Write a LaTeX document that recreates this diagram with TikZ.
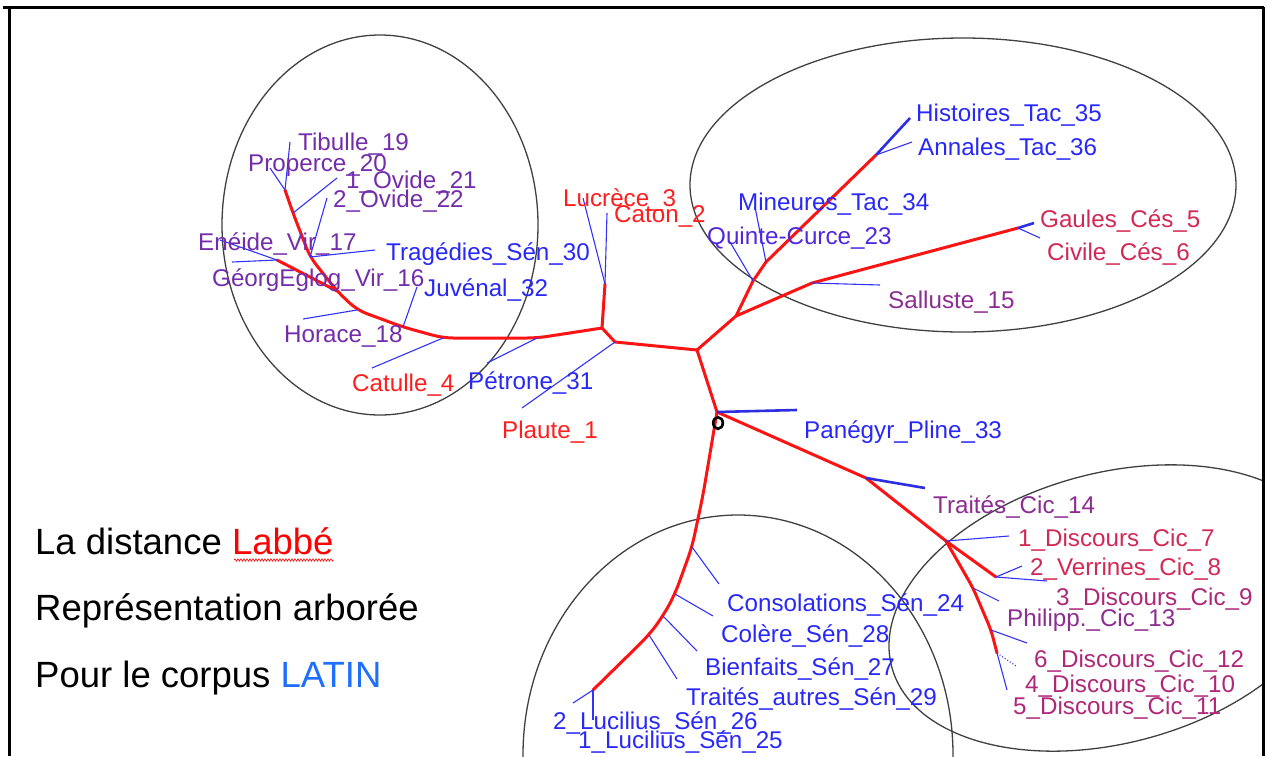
\documentclass[tikz,border=0pt]{standalone}
\usepackage{fontspec}
\setmainfont{Liberation Sans}
\usepackage{tikz}
\usetikzlibrary{calc, positioning}
\usetikzlibrary{decorations.pathmorphing}

\definecolor{treered}{RGB}{250,20,20}
\definecolor{leafblue}{RGB}{50,50,250}
\definecolor{labblue}{RGB}{40,40,250}
\definecolor{labindigo}{RGB}{80,40,220}
\definecolor{labpurple}{RGB}{115,45,170}
\definecolor{labred}{RGB}{255,30,30}
\definecolor{labcrimson}{RGB}{210,40,85}
\definecolor{labplum}{RGB}{140,45,145}
\definecolor{labmagenta}{RGB}{175,40,120}
\definecolor{latinblue}{RGB}{30,110,255}

\newcommand{\treefont}{\fontsize{24.2}{27}\selectfont}
\newcommand{\legendfont}{\fontsize{36.5}{41}\selectfont}

\begin{document}
\begin{tikzpicture}[x=1pt, y=-1pt,
    branch/.style={line width=3pt, treered, line join=round, line cap=round},
    leaf/.style={line width=1.1pt, leafblue},
    thickleaf/.style={line width=2.6pt, leafblue!90!black},
    group/.style={line width=1.3pt, black!75},
    lab/.style={anchor=base west, inner sep=0pt, font=\treefont},
    legend/.style={anchor=base west, inner sep=0pt, font=\legendfont}]

    \useasboundingbox (0,0) rectangle (1268,756);

    % frame
    \draw[line width=3pt] (3,7) -- (1264,7);
    \draw[line width=3pt] (9,7) -- (9,756);
    \draw[line width=3pt] (1263,7) -- (1263,756);

    % groups
    \coordinate (poetsc) at (380,225);
    \coordinate (tacc) at (963,185);
    \coordinate (senc) at (738,755);
    \coordinate (cicc) at (1112,608);
    \begin{scope}
        \clip (10,8) rectangle (1262,756);
        \draw[group] (poetsc) ellipse [x radius=158, y radius=190];
        \draw[group] (tacc) ellipse [x radius=273, y radius=147];
        \draw[group] (senc) ellipse [x radius=215, y radius=240];
        \draw[group, rotate around={15:(cicc)}] (cicc) ellipse [x radius=228, y radius=135];
    \end{scope}

    % internal nodes of the tree
    \coordinate (root) at (717,412);
    \coordinate (a) at (697,350);
    \coordinate (b) at (615,342);
    \coordinate (c) at (602,328);
    \coordinate (d) at (605,284);
    \coordinate (l1) at (537,338);
    \coordinate (l2) at (443,338);
    \coordinate (l3) at (403,327);
    \coordinate (l4) at (357,310);
    \coordinate (e) at (337,291);
    \coordinate (f) at (277,260);
    \coordinate (g) at (310,257);
    \coordinate (h) at (293,213);
    \coordinate (i) at (285,190);
    \coordinate (j) at (736,316);
    \coordinate (tq) at (753,281);
    \coordinate (tm) at (766,262);
    \coordinate (tk) at (876,155);
    \coordinate (cs) at (812,283);
    \coordinate (cg) at (1018,228);
    \coordinate (k) at (866,478);
    \coordinate (m) at (946,541);
    \coordinate (v) at (996,577);
    \coordinate (n1) at (973,588);
    \coordinate (n2) at (991,630);
    \coordinate (n3) at (997,653);
    \coordinate (s0) at (703,495);
    \coordinate (s1) at (692,547);
    \coordinate (s2) at (675,594);
    \coordinate (s3) at (663,616);
    \coordinate (s4) at (649,635);
    \coordinate (s5) at (593,690);

    % red branches
    \draw[branch] (root) -- (a) -- (b) -- (c) -- (d);
    \draw[branch, rounded corners=10pt] (c) -- (l1) -- (l2) -- (l3) -- (l4) -- (e) -- (g) -- (h) -- (i);
    \draw[branch] (e) -- (f);
    \draw[branch] (a) -- (j) -- (tq) -- (tm) -- (tk);
    \draw[branch] (j) -- (cs) -- (cg);
    \draw[branch] (root) -- (k) -- (m) -- (v);
    \draw[branch, rounded corners=8pt] (m) -- (n1) -- (n2) -- (n3);
    \draw[branch, rounded corners=12pt] (root) -- (s0) -- (s1) -- (s2) -- (s3) -- (s4) -- (s5);

    % leaf ends
    \coordinate (plautee) at (522,408);
    \coordinate (lucrecee) at (583,198);
    \coordinate (catone) at (607,213);
    \coordinate (petronee) at (487,363);
    \coordinate (catullee) at (372,368);
    \coordinate (juvenale) at (417,287);
    \coordinate (horacee) at (303,319);
    \coordinate (george) at (232,262);
    \coordinate (eneidee) at (220,240);
    \coordinate (tragediese) at (375,250);
    \coordinate (ovidebe) at (327,198);
    \coordinate (ovideae) at (337,178);
    \coordinate (tibullee) at (290,142);
    \coordinate (propercee) at (270,168);
    \coordinate (panegyre) at (797,410);
    \coordinate (traitescice) at (925,488);
    \coordinate (discviie) at (1009,536);
    \coordinate (verrinese) at (1022,566);
    \coordinate (discixe) at (1047,581);
    \coordinate (philippe) at (999,601);
    \coordinate (discxiie) at (1027,643);
    \coordinate (discxe) at (1016,666);
    \coordinate (discxie) at (1007,690);
    \coordinate (console) at (719,584);
    \coordinate (colseree) at (713,616);
    \coordinate (bienfe) at (697,651);
    \coordinate (autrese) at (677,679);
    \coordinate (lucilae) at (593,720);
    \coordinate (lucilbe) at (573,703);
    \coordinate (histoirese) at (910,118);
    \coordinate (annalese) at (912,142);
    \coordinate (mineurese) at (755,207);
    \coordinate (quintee) at (730,242);
    \coordinate (sallustee) at (880,285);
    \coordinate (gaulese) at (1034,223);
    \coordinate (civilee) at (1040,238);

    % blue leaves
    \draw[leaf] (b) -- (plautee);
    \draw[leaf] (d) -- (lucrecee);
    \draw[leaf] (d) -- (catone);
    \draw[leaf] (l1) -- (petronee);
    \draw[leaf] (l2) -- (catullee);
    \draw[leaf] (l3) -- (juvenale);
    \draw[leaf] (l4) -- (horacee);
    \draw[leaf] (f) -- (george);
    \draw[leaf] (f) -- (eneidee);
    \draw[leaf] (g) -- (tragediese);
    \draw[leaf] (g) -- (ovidebe);
    \draw[leaf] (h) -- (ovideae);
    \draw[leaf] (i) -- (tibullee);
    \draw[leaf] (i) -- (propercee);
    \draw[thickleaf] (root) -- (panegyre);
    \draw[thickleaf] (k) -- (traitescice);
    \draw[leaf] (m) -- (discviie);
    \draw[leaf] (v) -- (verrinese);
    \draw[leaf] (v) -- (discixe);
    \draw[leaf] (n1) -- (philippe);
    \draw[leaf] (n2) -- (discxiie);
    \draw[leaf, dotted] (n3) -- (discxe);
    \draw[leaf] (n3) -- (discxie);
    \draw[leaf] (s1) -- (console);
    \draw[leaf] (s2) -- (colseree);
    \draw[leaf] (s3) -- (bienfe);
    \draw[leaf] (s4) -- (autrese);
    \draw[leaf] (s5) -- (lucilae);
    \draw[leaf] (s5) -- (lucilbe);
    \draw[thickleaf] (tk) -- (histoirese);
    \draw[leaf] (tk) -- (annalese);
    \draw[leaf] (tm) -- (mineurese);
    \draw[leaf] (tq) -- (quintee);
    \draw[leaf] (cs) -- (sallustee);
    \draw[thickleaf] (cg) -- (gaulese);
    \draw[leaf] (cg) -- (civilee);

    % root mark
    \coordinate (rootmark) at (718,423);
    \draw[line width=2.6pt] (rootmark) ellipse [x radius=4.8, y radius=5.8];

    % labels
    \node[lab, labpurple] (tibulle) at (298,150) {Tibulle\_19};
    \node[lab, labpurple] (properce) at (248,171) {Properce\_20};
    \node[lab, labpurple] (ovidea) at (346,188) {1\_Ovide\_21};
    \node[lab, labpurple] (ovideb) at (333,207) {2\_Ovide\_22};
    \node[lab, labpurple] (eneide) at (198,250) {Enéide\_Vir\_17};
    \node[lab, labblue] (tragedies) at (386,260) {Tragédies\_Sén\_30};
    \node[lab, labpurple] (georg) at (212,286) {GéorgEglog\_Vir\_16};
    \node[lab, labblue] (juvenal) at (424,296) {Juvénal\_32};
    \node[lab, labpurple] (horace) at (284,342) {Horace\_18};
    \node[lab, labred] (catulle) at (352,391) {Catulle\_4};
    \node[lab, labblue] (petrone) at (468,389) {Pétrone\_31};
    \node[lab, labred] (plaute) at (502,438) {Plaute\_1};
    \node[lab, labred] (lucrece) at (563,206) {Lucrèce\_3};
    \node[lab, labred] (caton) at (614,222) {Caton\_2};
    \node[lab, labblue] (histoires) at (916,121) {Histoires\_Tac\_35};
    \node[lab, labblue] (annales) at (918,155) {Annales\_Tac\_36};
    \node[lab, labblue] (mineures) at (738,210) {Mineures\_Tac\_34};
    \node[lab, labindigo] (quinte) at (707,244) {Quinte-Curce\_23};
    \node[lab, labcrimson] (gaules) at (1040,227) {Gaules\_Cés\_5};
    \node[lab, labcrimson] (civile) at (1047,260) {Civile\_Cés\_6};
    \node[lab, labplum] (salluste) at (888,308) {Salluste\_15};
    \node[lab, labblue] (panegyr) at (804,438) {Panégyr\_Pline\_33};
    \node[lab, labplum] (traitescic) at (933,513) {Traités\_Cic\_14};
    \node[lab, labcrimson] (discvii) at (1018,546) {1\_Discours\_Cic\_7};
    \node[lab, labcrimson] (verrines) at (1030,575) {2\_Verrines\_Cic\_8};
    \node[lab, labmagenta] (discix) at (1056,605) {3\_Discours\_Cic\_9};
    \node[lab, labplum] (philipp) at (1007,626) {Philipp.\_Cic\_13};
    \node[lab, labmagenta] (discxii) at (1034,667) {6\_Discours\_Cic\_12};
    \node[lab, labmagenta] (discx) at (1025,692) {4\_Discours\_Cic\_10};
    \node[lab, labmagenta] (discxi) at (1013,714) {5\_Discours\_Cic\_11};
    \node[lab, labblue] (consol) at (727,611) {Consolations\_Sén\_24};
    \node[lab, labblue] (colere) at (721,642) {Colère\_Sén\_28};
    \node[lab, labblue] (bienf) at (705,675) {Bienfaits\_Sén\_27};
    \node[lab, labblue] (autres) at (686,705) {Traités\_autres\_Sén\_29};
    \node[lab, labblue] (lucilb) at (553,729) {2\_Lucilius\_Sén\_26};
    \node[lab, labblue] (lucila) at (578,748) {1\_Lucilius\_Sén\_25};

    % legend
    \node[legend] (legdist) at (35,554) {La distance \textcolor{red}{Labbé}};
    \node[legend] (legrep) at (35,620) {Représentation arborée};
    \node[legend] (legcorp) at (35,687) {Pour le corpus \textcolor{latinblue}{LATIN}};
    \draw[red, line width=0.6pt, decorate, decoration={snake, amplitude=1.2pt, segment length=3pt}]
        (234,560) -- (legdist.east |- 0,560);

\end{tikzpicture}
\end{document}
